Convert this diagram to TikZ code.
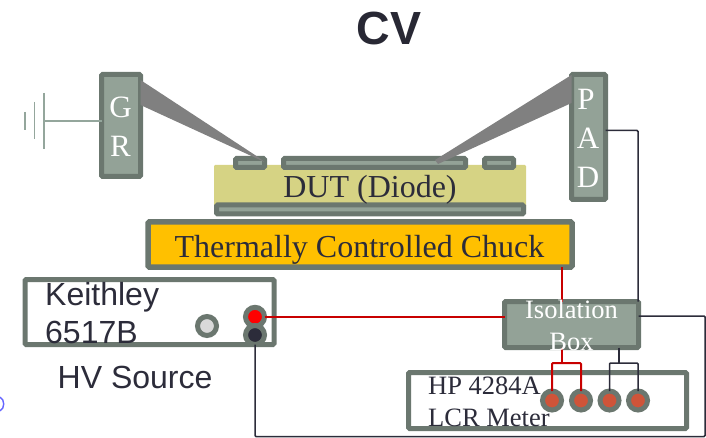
\documentclass[tikz,border=0pt]{standalone}
\usepackage{fontspec}
\setmainfont{Liberation Serif}
\newfontfamily\arialf{Liberation Sans}
\definecolor{edgeg}{HTML}{6B776F}
\definecolor{fillg}{HTML}{93A297}
\definecolor{yell}{HTML}{D6D384}
\definecolor{oran}{HTML}{FFC000}
\definecolor{ink}{HTML}{2C2C3A}
\definecolor{probeg}{HTML}{808080}
\definecolor{wred}{HTML}{C80000}
\definecolor{term}{HTML}{CF5439}
\definecolor{gndg}{HTML}{94A69C}
\tikzset{
  x=1pt,y=-1pt,
  gbox/.style={draw=edgeg,fill=fillg,line width=5pt,rounded corners=1.2pt,inner sep=0pt,outer sep=0pt},
  wbox/.style={draw=edgeg,fill=white,line width=5pt,rounded corners=1.2pt,inner sep=0pt,outer sep=0pt},
  thinpad/.style={draw=edgeg,fill=fillg,line width=5pt,rounded corners=1.2pt,inner sep=0pt,outer sep=0pt},
  jack/.style={circle,draw=edgeg,line width=5pt,minimum size=19pt,inner sep=0pt,outer sep=0pt},
  whitet/.style={text=white,font=\fontsize{31}{31}\selectfont,inner sep=0pt},
  inkt/.style={text=ink,inner sep=0pt},
  redw/.style={draw=wred,line width=2pt,rounded corners=1pt},
  darkw/.style={draw=ink,line width=1.5pt,rounded corners=1pt},
  gndw/.style={draw=gndg,line width=1.4pt},
  probe/.style={fill=probeg,draw=none}
}
\begin{document}
\begin{tikzpicture}
\useasboundingbox (0,0) rectangle (706,438);
% DUT
\node[fill=yell,rounded corners=1.2pt,minimum width=312pt,minimum height=46pt,inner sep=0pt] (dut) at (370,188) {};
\node[thinpad,minimum width=307pt,minimum height=9pt] (back) at (370,209.5) {};
\node[thinpad,minimum width=29pt,minimum height=9pt] (padl) at (250,163) {};
\node[thinpad,minimum width=182pt,minimum height=9pt] (padm) at (374.5,163) {};
\node[thinpad,minimum width=29pt,minimum height=9pt] (padr) at (499,163) {};
\node[inkt,font=\fontsize{32}{32}\selectfont,anchor=base] (dutt) at (370,198) {DUT (Diode)};
% probes blocks
\node[gbox,minimum width=39pt,minimum height=102pt] (gr) at (121,125.5) {};
\node[gbox,minimum width=34pt,minimum height=125pt] (pad) at (588.5,137) {};
\node[whitet,anchor=base] (grg) at (120.5,118) {G};
\node[whitet,anchor=base] (grr) at (120.5,157) {R};
\node[whitet,anchor=base] (padp) at (586,110) {P};
\node[whitet,anchor=base] (pada) at (588,149) {A};
\node[whitet,anchor=base] (padd) at (588,188) {D};
\fill[probe] (gr.east |- 0,80) -- (gr.east |- 0,105) -- (padl.east |- 0,162) -- (258,157) -- cycle;
\fill[probe] (pad.west |- 0,75) -- (pad.west |- 0,103) -- (438,164) -- (435,160) -- cycle;
% ground
\draw[gndw] (gr.west |- 0,121) -- (44,121);
\draw[gndw] (44,93) -- (44,149);
\draw[gndw] (34.5,102) -- (34.5,139);
\draw[gndw] (25,112) -- (25,130);
% chuck
\node[draw=edgeg,fill=oran,line width=5.5pt,rounded corners=1.2pt,inner sep=0pt,outer sep=0pt,minimum width=424pt,minimum height=45pt] (chuck) at (360,244.5) {};
\node[inkt,font=\fontsize{32}{32}\selectfont,anchor=base] (chuckt) at (359.5,257) {Thermally Controlled Chuck};
% keithley
\node[wbox,minimum width=249pt,minimum height=65pt] (kei) at (149.5,312) {};
\node[jack,fill=black!15] (jg) at (207,326) {};
\node[jack,fill=red] (jr) at (255,316.8) {};
\node[jack,fill=ink] (jb) at (255,335) {};
\node[inkt,font=\arialf\fontsize{32}{32}\selectfont,anchor=base west] (keia) at (45,305) {Keithley};
\node[inkt,font=\arialf\fontsize{32}{32}\selectfont,anchor=base west] (keib) at (45,343) {6517B};
\node[inkt,font=\arialf\fontsize{32}{32}\selectfont,anchor=base west] (hv) at (57.5,388) {HV Source};
% iso
\node[gbox,minimum width=134pt,minimum height=46pt] (iso) at (571.5,324.5) {};
% hp
\node[wbox,minimum width=278pt,minimum height=56pt] (hp) at (547.5,400.5) {};
\node[jack,fill=term] (t1) at (552,400.5) {};
\node[jack,fill=term] (t2) at (581,400.5) {};
\node[jack,fill=term] (t3) at (609.5,400.5) {};
\node[jack,fill=term] (t4) at (638,400.5) {};
\node[inkt,font=\fontsize{26.5}{26.5}\selectfont,anchor=base west] (hpa) at (428,394) {HP 4284A};
\node[inkt,font=\fontsize{26.5}{26.5}\selectfont,anchor=base west] (hpb) at (428,426) {LCR Meter};
% wires
\coordinate (redsplit) at (562,363);
\coordinate (darksplit) at (619,363);
\draw[redw] (chuck.south -| redsplit) -- (iso.north -| redsplit);
\draw[redw] (jr.east) -- (iso.west |- jr.east);
\draw[redw] (iso.south -| redsplit) -- (redsplit);
\draw[redw] (t1.north) |- (redsplit) -| (t2.north);
\draw[darkw] (iso.south -| darksplit) -- (darksplit);
\draw[darkw] (t3.north) |- (darksplit) -| (t4.north);
\draw[darkw] ([yshift=6.5pt]pad.east) -| (iso.north -| 638,0);
\draw[darkw] (iso.east |- 0,316) -- (705,316) -- (705,436.5) -- (255,436.5) -- (jb.south);
\node[whitet,font=\fontsize{26.5}{26.5}\selectfont,anchor=base] (isoa) at (571.5,318) {Isolation};
\node[whitet,font=\fontsize{26.5}{26.5}\selectfont,anchor=base] (isob) at (571.5,350) {Box};
% title
\node[text=ink!90!black,font=\arialf\bfseries\fontsize{46.5}{46.5}\selectfont,anchor=base,inner sep=0pt] (title) at (389,45) {CV};
% stray mark
\draw[blue!60,line width=1.4pt] (0,397) .. controls (5,400) and (5,408) .. (0,411);
\end{tikzpicture}
\end{document}
